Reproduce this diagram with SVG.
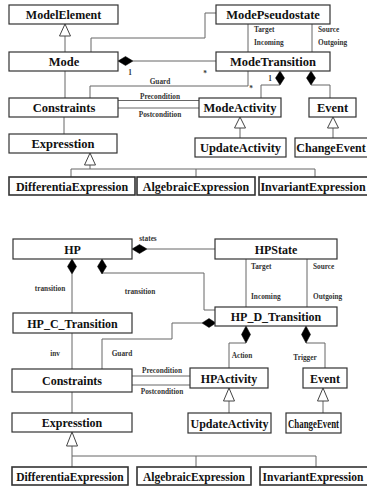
<svg xmlns="http://www.w3.org/2000/svg" width="367" height="487" viewBox="0 0 367 487">
  <style>
    .box { fill: #fff; stroke: #333; stroke-width: 1.2; }
    .leaf { fill: #fff; stroke: #333; stroke-width: 1.6; }
    .ln { fill: none; stroke: #666; stroke-width: 1; }
    .dia { fill: #000; stroke: #000; stroke-width: 0.5; }
    .gen { fill: #fff; stroke: #444; stroke-width: 1; }
    .t { font-family: "Liberation Serif", "Times New Roman", serif; font-weight: bold; text-anchor: middle; fill: #111; }
    .m { font-size: 12.5px; }
    .n { font-size: 12px; }
    .s { font-family: "Liberation Serif", "Times New Roman", serif; font-weight: bold; font-size: 7.3px; fill: #333; }
    .c { text-anchor: middle; }
  </style>
  <rect width="367" height="487" fill="#fff"/>

  <!-- ===== Mode meta-model (upper part) ===== -->
  <g id="connectors-mode">
    <!-- Mode generalises ModelElement -->
    <line class="ln" x1="65" y1="36" x2="65" y2="52"/>
    <polygon class="gen" points="65,24 59.5,36 70.5,36"/>
    <!-- Mode to ModePseudostate -->
    <polyline class="ln" points="91,52 91,38 205,38 205,13 216,13"/>
    <!-- Mode owns ModeTransition -->
    <line class="ln" x1="133" y1="61" x2="216" y2="61"/>
    <polygon class="dia" points="118,61 125.5,56.5 133,61 125.5,65.5"/>
    <text class="s c" x="130" y="75">1</text>
    <text class="s c" x="205" y="76">*</text>
    <!-- Mode to Constraints -->
    <line class="ln" x1="65" y1="71" x2="65" y2="98"/>
    <!-- ModePseudostate / ModeTransition -->
    <line class="ln" x1="248" y1="24" x2="248" y2="52"/>
    <line class="ln" x1="312" y1="24" x2="312" y2="52"/>
    <text class="s" x="254" y="32">Target</text>
    <text class="s" x="254" y="45">Incoming</text>
    <text class="s" x="318" y="32">Source</text>
    <text class="s" x="318" y="45">Outgoing</text>
    <!-- Guard -->
    <polyline class="ln" points="248,71 248,86 90,86 90,98"/>
    <text class="s c" x="160" y="84">Guard</text>
    <text class="s c" x="251" y="91">*</text>
    <!-- Precondition / Postcondition -->
    <line class="ln" x1="118" y1="100.5" x2="199" y2="100.5"/>
    <line class="ln" x1="118" y1="108" x2="199" y2="108"/>
    <text class="s c" x="160" y="98.5">Precondition</text>
    <text class="s c" x="160" y="117">Postcondition</text>
    <!-- ModeTransition owns ModeActivity and Event -->
    <polyline class="ln" points="280,85 261,85 261,98"/>
    <polygon class="dia" points="280,71 284.5,78 280,85 275.5,78"/>
    <text class="s c" x="270" y="81">1</text>
    <polyline class="ln" points="311,85 330,85 330,98"/>
    <polygon class="dia" points="311,71 315.5,78 311,85 306.5,78"/>
    <!-- UpdateActivity / ChangeEvent generalisations -->
    <line class="ln" x1="240" y1="128" x2="240" y2="138"/>
    <polygon class="gen" points="240,117 234.5,128 245.5,128"/>
    <line class="ln" x1="333" y1="128" x2="333" y2="138"/>
    <polygon class="gen" points="333,117 327.5,128 338.5,128"/>
    <!-- Constraints to Expresstion -->
    <line class="ln" x1="64" y1="117" x2="64" y2="134"/>
    <!-- Expression subclasses -->
    <polyline class="ln" points="90,165 90,169"/>
    <polygon class="gen" points="90,153 84.5,165 95.5,165"/>
    <line class="ln" x1="71" y1="169" x2="315" y2="169"/>
    <line class="ln" x1="71" y1="169" x2="71" y2="177"/>
    <line class="ln" x1="196" y1="169" x2="196" y2="177"/>
    <line class="ln" x1="315" y1="169" x2="315" y2="177"/>
  </g>

  <g id="ModelElement"><rect class="box" x="9" y="5" width="109" height="19"/><text class="t n" x="63.5" y="19">ModelElement</text></g>
  <g id="Mode"><rect class="box" x="9" y="52" width="109" height="19"/><text class="t m" x="64" y="66">Mode</text></g>
  <g id="ModePseudostate"><rect class="box" x="216" y="5" width="114" height="19"/><text class="t m" x="273" y="19">ModePseudostate</text></g>
  <g id="ModeTransition"><rect class="box" x="216" y="52" width="114" height="19"/><text class="t m" x="273" y="66">ModeTransition</text></g>
  <g id="Constraints-1"><rect class="box" x="9" y="98" width="109" height="19"/><text class="t m" x="64" y="112">Constraints</text></g>
  <g id="ModeActivity"><rect class="box" x="199" y="98" width="82" height="19"/><text class="t m" x="240" y="112">ModeActivity</text></g>
  <g id="Event-1"><rect class="box" x="309" y="98" width="47" height="19"/><text class="t m" x="332.5" y="112">Event</text></g>
  <g id="UpdateActivity-1"><rect class="box" x="195" y="138" width="91" height="19"/><text class="t m" x="240.5" y="152">UpdateActivity</text></g>
  <g id="ChangeEvent-1"><rect class="box" x="295" y="138" width="80" height="19"/><text class="t n" x="331" y="152">ChangeEvent</text></g>
  <g id="Expresstion-1"><rect class="box" x="9" y="134" width="108" height="19"/><text class="t m" x="63" y="148">Expresstion</text></g>
  <g id="DifferentiaExpression-1"><rect class="leaf" x="9" y="177" width="126" height="18"/><text class="t n" x="72" y="190.5">DifferentiaExpression</text></g>
  <g id="AlgebraicExpression-1"><rect class="leaf" x="137" y="177" width="118" height="18"/><text class="t n" x="196" y="190.5">AlgebraicExpression</text></g>
  <g id="InvariantExpression-1"><rect class="leaf" x="259" y="177" width="115" height="18"/><text class="t n" x="313" y="190.5">InvariantExpression</text></g>

  <!-- ===== Hybrid program meta-model (lower part) ===== -->
  <g id="connectors-hp">
    <!-- HP owns HPState -->
    <line class="ln" x1="147" y1="249" x2="215" y2="249"/>
    <polygon class="dia" points="132,249 139.5,244.5 147,249 139.5,253.5"/>
    <text class="s c" x="148" y="241">states</text>
    <!-- HP owns HP_C_Transition -->
    <line class="ln" x1="72" y1="274" x2="72" y2="313"/>
    <polygon class="dia" points="72,259 76.5,266.5 72,274 67.5,266.5"/>
    <text class="s c" x="50" y="291">transition</text>
    <!-- HP owns HP_D_Transition -->
    <polyline class="ln" points="102,273 204,273 204,310 215,310"/>
    <polygon class="dia" points="102,259 106.5,266.5 102,274 97.5,266.5"/>
    <text class="s c" x="140" y="294">transition</text>
    <!-- HPState / HP_D_Transition -->
    <line class="ln" x1="246" y1="259" x2="246" y2="307"/>
    <line class="ln" x1="307" y1="259" x2="307" y2="307"/>
    <text class="s" x="251" y="269">Target</text>
    <text class="s" x="251" y="299">Incoming</text>
    <text class="s" x="313" y="269">Source</text>
    <text class="s" x="313" y="299">Outgoing</text>
    <!-- Guard -->
    <polyline class="ln" points="202,323 172,323 172,339 102,339 102,369"/>
    <polygon class="dia" points="216,323 209,318.5 202,323 209,327.5"/>
    <text class="s c" x="122" y="356">Guard</text>
    <!-- inv -->
    <line class="ln" x1="72" y1="333" x2="72" y2="369"/>
    <text class="s c" x="55" y="356">inv</text>
    <!-- Precondition / Postcondition -->
    <line class="ln" x1="132" y1="376" x2="190" y2="376"/>
    <line class="ln" x1="132" y1="385" x2="190" y2="385"/>
    <text class="s c" x="162" y="373">Precondition</text>
    <text class="s c" x="162" y="394">Postcondition</text>
    <!-- Action / Trigger -->
    <polyline class="ln" points="246,343 229,343 229,368"/>
    <polygon class="dia" points="246,326 250.5,334.5 246,343 241.5,334.5"/>
    <text class="s c" x="242" y="358">Action</text>
    <polyline class="ln" points="306,343 325,343 325,368"/>
    <polygon class="dia" points="306,326 310.5,334.5 306,343 301.5,334.5"/>
    <text class="s c" x="305" y="360">Trigger</text>
    <!-- generalisations -->
    <line class="ln" x1="229" y1="401" x2="229" y2="413"/>
    <polygon class="gen" points="229,388 223.5,401 234.5,401"/>
    <line class="ln" x1="323" y1="401" x2="323" y2="413"/>
    <polygon class="gen" points="323,388 317.5,401 328.5,401"/>
    <!-- Constraints to Expresstion -->
    <line class="ln" x1="72" y1="392" x2="72" y2="413"/>
    <!-- Expression subclasses -->
    <line class="ln" x1="72" y1="446" x2="72" y2="467"/>
    <polygon class="gen" points="72,432 66.5,446 77.5,446"/>
    <line class="ln" x1="72" y1="456" x2="316" y2="456"/>
    <line class="ln" x1="196" y1="456" x2="196" y2="467"/>
    <line class="ln" x1="316" y1="456" x2="316" y2="467"/>
  </g>

  <g id="HP"><rect class="box" x="13" y="239" width="119" height="20"/><text class="t n" x="72.5" y="253.5">HP</text></g>
  <g id="HPState"><rect class="box" x="215" y="239" width="122" height="20"/><text class="t n" x="276" y="253.5">HPState</text></g>
  <g id="HP_C_Transition"><rect class="box" x="13" y="313" width="119" height="20"/><text class="t n" x="72.5" y="327.5">HP_C_Transition</text></g>
  <g id="HP_D_Transition"><rect class="box" x="215" y="307" width="122" height="19"/><text class="t n" x="276" y="321">HP_D_Transition</text></g>
  <g id="Constraints-2"><rect class="box" x="12" y="369" width="120" height="23"/><text class="t n" x="72" y="385">Constraints</text></g>
  <g id="HPActivity"><rect class="box" x="190" y="368" width="78" height="20"/><text class="t n" x="229" y="382.5">HPActivity</text></g>
  <g id="Event-2"><rect class="box" x="303" y="368" width="44" height="20"/><text class="t n" x="325" y="382.5">Event</text></g>
  <g id="UpdateActivity-2"><rect class="box" x="188" y="413" width="83" height="20"/><text class="t n" x="229.5" y="427.5">UpdateActivity</text></g>
  <g id="ChangeEvent-2"><rect class="box" x="286" y="413" width="55" height="20"/><text class="t n" x="313.5" y="427.5" textLength="51" lengthAdjust="spacingAndGlyphs">ChangeEvent</text></g>
  <g id="Expresstion-2"><rect class="box" x="12" y="413" width="120" height="19"/><text class="t n" x="72" y="427">Expresstion</text></g>
  <g id="DifferentiaExpression-2"><rect class="leaf" x="12" y="467" width="116" height="18"/><text class="t" font-size="11.5" x="70" y="480.5">DifferentiaExpression</text></g>
  <g id="AlgebraicExpression-2"><rect class="leaf" x="137" y="467" width="114" height="18"/><text class="t" font-size="11.5" x="194" y="480.5">AlgebraicExpression</text></g>
  <g id="InvariantExpression-2"><rect class="leaf" x="260" y="467" width="112" height="18"/><text class="t" font-size="11.5" x="313" y="480.5">InvariantExpression</text></g>
</svg>
